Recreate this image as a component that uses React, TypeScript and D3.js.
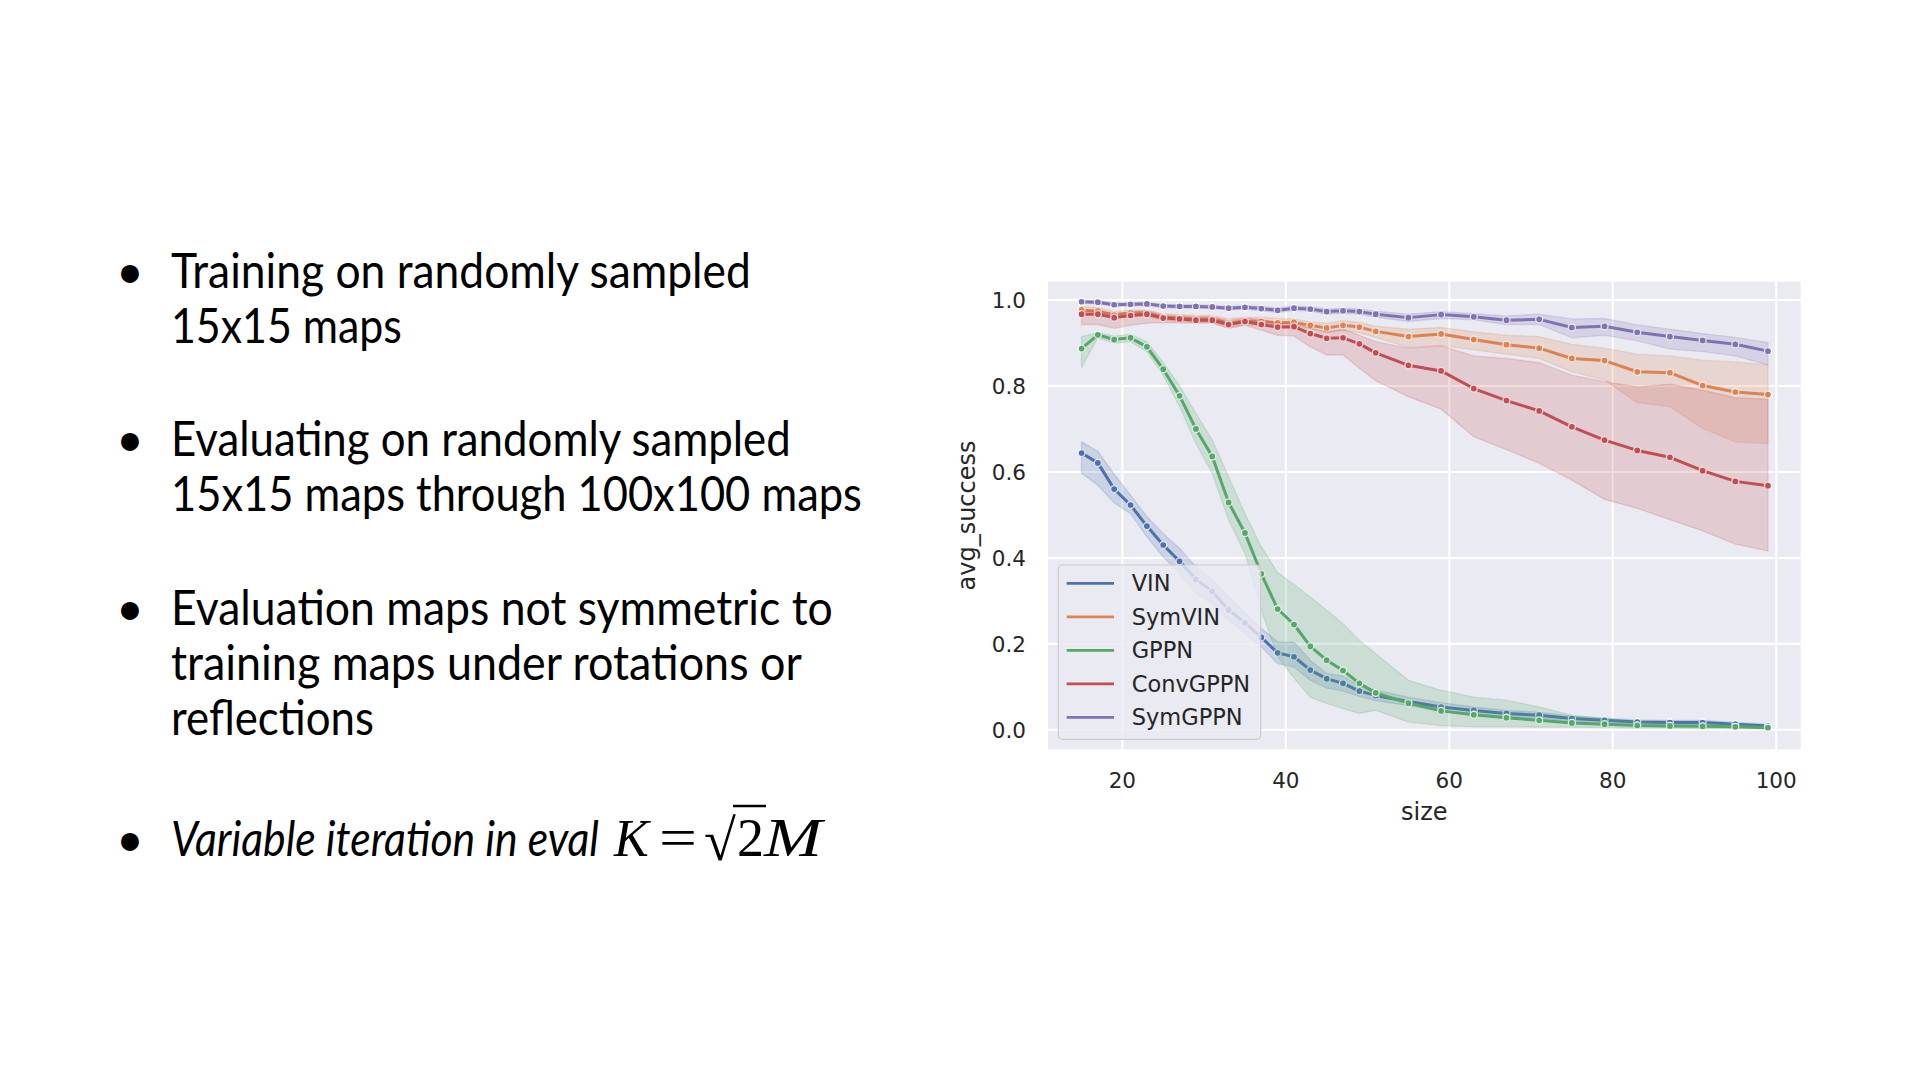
import React, { useMemo } from 'react';
import * as d3 from 'd3';

// ---------- chart data ----------
const sizes = [15, 17, 19, 21, 23, 25, 27, 29, 31, 33, 35, 37, 39, 41, 43, 45, 47, 49, 51, 55, 59, 63, 67, 71, 75, 79, 83, 87, 91, 95, 99];

const vinMean = [0.644, 0.621, 0.560, 0.523, 0.474, 0.430, 0.392, 0.350, 0.322, 0.279, 0.249, 0.215, 0.179, 0.170, 0.139, 0.119, 0.108, 0.090, 0.080, 0.066, 0.053, 0.045, 0.038, 0.034, 0.026, 0.022, 0.018, 0.017, 0.017, 0.013, 0.009];
const vinLo = [0.597, 0.569, 0.528, 0.503, 0.449, 0.402, 0.364, 0.317, 0.294, 0.255, 0.224, 0.193, 0.154, 0.146, 0.115, 0.097, 0.090, 0.078, 0.068, 0.056, 0.043, 0.037, 0.031, 0.027, 0.020, 0.017, 0.013, 0.012, 0.012, 0.009, 0.005];
const vinHi = [0.670, 0.648, 0.595, 0.546, 0.496, 0.457, 0.422, 0.379, 0.348, 0.309, 0.271, 0.236, 0.204, 0.204, 0.162, 0.131, 0.125, 0.102, 0.092, 0.076, 0.063, 0.053, 0.045, 0.041, 0.032, 0.027, 0.023, 0.022, 0.022, 0.017, 0.013];

const symvinMean = [0.977, 0.974, 0.965, 0.970, 0.970, 0.960, 0.958, 0.956, 0.956, 0.946, 0.951, 0.950, 0.947, 0.948, 0.941, 0.935, 0.941, 0.937, 0.927, 0.915, 0.921, 0.908, 0.896, 0.888, 0.864, 0.859, 0.833, 0.831, 0.801, 0.786, 0.780];
const symvinLo = [0.968, 0.966, 0.958, 0.962, 0.962, 0.952, 0.950, 0.948, 0.948, 0.936, 0.942, 0.940, 0.937, 0.940, 0.934, 0.924, 0.929, 0.924, 0.913, 0.890, 0.894, 0.884, 0.874, 0.864, 0.833, 0.814, 0.761, 0.752, 0.701, 0.670, 0.666];
const symvinHi = [0.985, 0.982, 0.973, 0.977, 0.977, 0.968, 0.966, 0.964, 0.964, 0.956, 0.960, 0.960, 0.957, 0.956, 0.949, 0.946, 0.952, 0.948, 0.939, 0.932, 0.936, 0.926, 0.918, 0.915, 0.897, 0.888, 0.874, 0.870, 0.860, 0.856, 0.849];

const gppnMean = [0.887, 0.919, 0.908, 0.912, 0.891, 0.839, 0.777, 0.700, 0.636, 0.529, 0.458, 0.363, 0.281, 0.245, 0.194, 0.162, 0.138, 0.108, 0.086, 0.062, 0.044, 0.035, 0.028, 0.022, 0.016, 0.013, 0.010, 0.009, 0.008, 0.007, 0.005];
const gppnLo = [0.843, 0.912, 0.900, 0.903, 0.880, 0.825, 0.752, 0.666, 0.597, 0.488, 0.410, 0.278, 0.170, 0.120, 0.076, 0.061, 0.049, 0.038, 0.045, 0.018, 0.010, 0.007, 0.007, 0.006, 0.006, 0.005, 0.004, 0.004, 0.003, 0.003, 0.002];
const gppnHi = [0.915, 0.924, 0.916, 0.920, 0.903, 0.855, 0.800, 0.736, 0.674, 0.589, 0.503, 0.426, 0.366, 0.338, 0.309, 0.278, 0.247, 0.208, 0.177, 0.115, 0.092, 0.076, 0.069, 0.053, 0.034, 0.026, 0.018, 0.015, 0.014, 0.012, 0.009];

const convMean = [0.967, 0.967, 0.959, 0.964, 0.967, 0.958, 0.956, 0.953, 0.953, 0.943, 0.950, 0.943, 0.937, 0.938, 0.922, 0.911, 0.912, 0.898, 0.877, 0.848, 0.835, 0.794, 0.766, 0.742, 0.705, 0.674, 0.650, 0.634, 0.603, 0.578, 0.568];
const convLo = [0.943, 0.943, 0.934, 0.941, 0.946, 0.947, 0.947, 0.946, 0.946, 0.934, 0.941, 0.930, 0.918, 0.916, 0.891, 0.872, 0.872, 0.841, 0.812, 0.775, 0.746, 0.682, 0.652, 0.620, 0.581, 0.536, 0.515, 0.489, 0.463, 0.432, 0.416];
const convHi = [0.975, 0.975, 0.968, 0.973, 0.975, 0.965, 0.963, 0.961, 0.961, 0.952, 0.958, 0.955, 0.947, 0.946, 0.934, 0.926, 0.932, 0.918, 0.903, 0.888, 0.893, 0.870, 0.864, 0.854, 0.825, 0.810, 0.798, 0.804, 0.790, 0.773, 0.769];

const symgppnMean = [0.996, 0.995, 0.989, 0.990, 0.991, 0.986, 0.985, 0.985, 0.984, 0.981, 0.983, 0.980, 0.976, 0.981, 0.979, 0.973, 0.975, 0.973, 0.967, 0.959, 0.966, 0.961, 0.953, 0.955, 0.936, 0.939, 0.925, 0.915, 0.906, 0.897, 0.881];
const symgppnLo = [0.992, 0.991, 0.985, 0.986, 0.987, 0.982, 0.981, 0.981, 0.980, 0.977, 0.979, 0.975, 0.971, 0.976, 0.974, 0.967, 0.969, 0.967, 0.960, 0.950, 0.957, 0.954, 0.943, 0.943, 0.912, 0.918, 0.905, 0.886, 0.880, 0.870, 0.849];
const symgppnHi = [0.999, 0.998, 0.993, 0.994, 0.995, 0.990, 0.989, 0.989, 0.988, 0.985, 0.987, 0.985, 0.981, 0.986, 0.984, 0.979, 0.981, 0.979, 0.974, 0.967, 0.973, 0.968, 0.963, 0.967, 0.956, 0.957, 0.942, 0.932, 0.922, 0.913, 0.901];

const seriesNames = ['VIN', 'SymVIN', 'GPPN', 'ConvGPPN', 'SymGPPN'];
const seriesColors = ['#4C72B0', '#DD8452', '#55A868', '#C44E52', '#8172B3'];

const xTicks = [20, 40, 60, 80, 100];
const yTicks = [0.0, 0.2, 0.4, 0.6, 0.8, 1.0];

// ---------- slide text ----------
const bullet1 = ['Training on randomly sampled', '15x15 maps'];
const bullet2 = ['Evaluating on randomly sampled', '15x15 maps through 100x100 maps'];
const bullet3 = ['Evaluation maps not symmetric to', 'training maps under rotations or', 'reflections'];
const bullet4Text = 'Variable iteration in eval';

const SLIDE_FAMILY = 'Lato';
const FS = 48;

function measureWidth(txt: string, font: string): number {
  try {
    const ctx = document.createElement('canvas').getContext('2d');
    if (!ctx) return txt.length * FS * 0.5;
    ctx.font = font;
    return ctx.measureText(txt).width || txt.length * FS * 0.5;
  } catch {
    return txt.length * FS * 0.5;
  }
}

function FitText(props: { text: string; x: number; y: number; width: number; italic?: boolean }) {
  const { text, x, y, width, italic } = props;
  const natural = useMemo(
    () => measureWidth(text, `${italic ? 'italic ' : ''}${FS}px ${SLIDE_FAMILY}`),
    [text, italic]
  );
  const sx = width / natural;
  return (
    <text transform={`translate(${x},${y}) scale(${sx},1)`} fontFamily={`${SLIDE_FAMILY}, "Open Sans", sans-serif`}
      fontSize={FS} fontStyle={italic ? 'italic' : 'normal'} fill="#000">{text}</text>
  );
}

export default function App() {
  const series = [
    { mean: vinMean, lo: vinLo, hi: vinHi },
    { mean: symvinMean, lo: symvinLo, hi: symvinHi },
    { mean: gppnMean, lo: gppnLo, hi: gppnHi },
    { mean: convMean, lo: convLo, hi: convHi },
    { mean: symgppnMean, lo: symgppnLo, hi: symgppnHi },
  ].map((s, i) => ({ ...s, name: seriesNames[i], color: seriesColors[i] }));

  const L = 1048, R = 1800.7, T = 281.7, B = 749.3;
  const x = d3.scaleLinear().domain([10.9, 103.0]).range([L, R]);
  const y = d3.scaleLinear().domain([-0.0454, 1.0426]).range([B, T]);

  const line = d3.line<number>().x((_, i) => x(sizes[i])).y((d) => y(d));
  const areaFor = (lo: number[], hi: number[]) =>
    d3.area<number>().x((_, i) => x(sizes[i])).y0((_, i) => y(lo[i])).y1((_, i) => y(hi[i]))(lo) || '';

  const chartFont = 'DejaVu Sans, sans-serif';
  const textColor = '#262626';
  const slideFont = `${SLIDE_FAMILY}, "Open Sans", sans-serif`;

  const blocks = [
    { lines: bullet1, base: 288, widths: [581, 231] },
    { lines: bullet2, base: 456, widths: [621, 691] },
    { lines: bullet3, base: 625, widths: [662, 632, 203] },
  ];
  const lh = 55;

  const legX = 1058.3, legY = 565, legW = 202.4, legH = 174.3;
  const legRow0 = 583.3, legStep = 33.5;
  const mathFont = 'Liberation Serif, serif';
  const mathBase = 856;

  return (
    <svg width={1920} height={1080} style={{ position: 'fixed', left: 0, top: 0, background: '#fff' }}>
      <rect x={0} y={0} width={1920} height={1080} fill="#ffffff" />

      {/* slide bullets */}
      {blocks.map((b, bi) => (
        <g key={bi}>
          <text x={130} y={b.base} fontFamily={slideFont} fontSize={FS} textAnchor="middle" fill="#000">•</text>
          {b.lines.map((t, li) => (
            <FitText key={li} text={t} x={171} y={b.base + li * lh} width={b.widths[li]} />
          ))}
        </g>
      ))}
      <g>
        <text x={130} y={mathBase} fontFamily={slideFont} fontSize={FS} textAnchor="middle" fill="#000">•</text>
        <FitText text={bullet4Text} x={171} y={mathBase} width={428} italic />
        <text x={614} y={mathBase} fontFamily={mathFont} fontSize={52} fontStyle="italic" fill="#000">K</text>
        <text x={659} y={mathBase} fontFamily={mathFont} fontSize={54} fill="#000"
          textLength={38} lengthAdjust="spacingAndGlyphs">=</text>
        <text x={704} y={mathBase + 4} fontFamily={mathFont} fontSize={58} fill="#000">√</text>
        <line x1={733} x2={766} y1={806} y2={806} stroke="#000" strokeWidth={2.5} />
        <text x={737} y={mathBase} fontFamily={mathFont} fontSize={54} fill="#000">2</text>
        <text x={764} y={mathBase} fontFamily={mathFont} fontSize={54} fontStyle="italic" fill="#000"
          textLength={58} lengthAdjust="spacingAndGlyphs">M</text>
      </g>

      {/* plot background */}
      <rect x={L} y={T} width={R - L} height={B - T} fill="#EAEAF2" />
      {xTicks.map((t) => (
        <line key={'gx' + t} x1={x(t)} x2={x(t)} y1={T} y2={B} stroke="#fff" strokeWidth={2} />
      ))}
      {yTicks.map((t) => (
        <line key={'gy' + t} x1={L} x2={R} y1={y(t)} y2={y(t)} stroke="#fff" strokeWidth={2} />
      ))}

      {/* series */}
      <defs>
        <clipPath id="plotclip"><rect x={L} y={T} width={R - L} height={B - T} /></clipPath>
      </defs>
      <g clipPath="url(#plotclip)">
        {series.map((s) => (
          <g key={s.name}>
            <path d={line(s.mean) || ''} fill="none" stroke={s.color} strokeWidth={3} strokeLinejoin="round" />
            {s.mean.map((v, i) => (
              <circle key={i} cx={x(sizes[i])} cy={y(v)} r={3.5} fill={s.color} stroke="#fff" strokeWidth={1.3} />
            ))}
            <path d={areaFor(s.lo, s.hi)} fill={s.color} fillOpacity={0.2} stroke={s.color} strokeOpacity={0.2} strokeWidth={1.3} />
          </g>
        ))}
      </g>

      {/* ticks */}
      {yTicks.map((t) => (
        <text key={'ty' + t} x={1026} y={y(t)} dy="0.36em" textAnchor="end" fontFamily={chartFont} fontSize={21.5} fill={textColor}>
          {t.toFixed(1)}
        </text>
      ))}
      {xTicks.map((t) => (
        <text key={'tx' + t} x={x(t)} y={788} textAnchor="middle" fontFamily={chartFont} fontSize={21.5} fill={textColor}>
          {t}
        </text>
      ))}
      <text x={(L + R) / 2} y={820} textAnchor="middle" fontFamily={chartFont} fontSize={24} fill={textColor}>size</text>
      <text transform={`translate(975,${(T + B) / 2}) rotate(-90)`} textAnchor="middle" fontFamily={chartFont} fontSize={24} fill={textColor}>avg_success</text>

      {/* legend */}
      <rect x={legX} y={legY} width={legW} height={legH} rx={4} fill="#EAEAF2" fillOpacity={0.8} stroke="#cccccc" strokeWidth={1.2} />
      {series.map((s, i) => (
        <g key={'lg' + s.name}>
          <line x1={1066.7} x2={1114} y1={legRow0 + i * legStep} y2={legRow0 + i * legStep} stroke={s.color} strokeWidth={2.8} />
          <text x={1131.7} y={legRow0 + i * legStep} dy="0.36em" fontFamily={chartFont} fontSize={22.5} fill={textColor}>{s.name}</text>
        </g>
      ))}
    </svg>
  );
}
